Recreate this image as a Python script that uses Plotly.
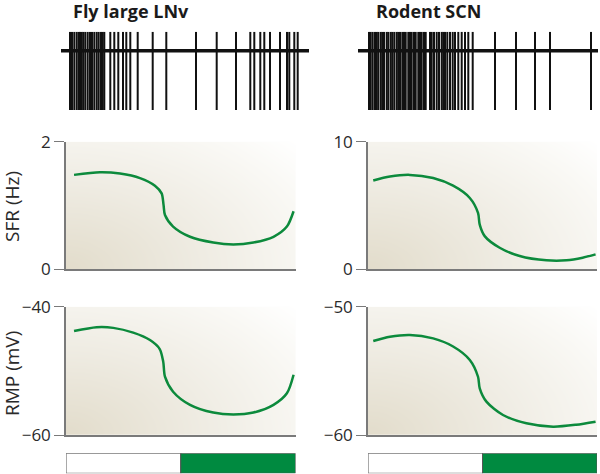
import numpy as np
import plotly.graph_objects as go

W, H = 600, 474

# ---------------- data ----------------
# spike times (ms) along each raster
fly_spikes = [9, 11, 13.3, 15.7, 17.7, 19, 20.7, 22.3, 24.3, 26.7, 29, 31, 33.3, 35.7, 37.7,
              40, 41.7, 43.3, 49.3, 53.3, 57.3, 62, 65.3, 69.3, 76.7, 91.7, 105.3, 135,
              155.7, 175, 189.3, 193.3, 199.3, 203.3, 209, 219, 226, 228.3, 233.3, 236.7]
fly_raster_len = 248
rod_spikes = [11, 12.7, 14.7, 17, 18.7, 20.3, 22.7, 24.3, 26, 28.7, 30.3, 32.7, 34.3, 36.3,
              38.7, 40.3, 42, 44.3, 46, 47.7, 50.3, 52, 53.7, 56, 57.7, 60.3, 62, 63.7, 66,
              67.7, 72, 73.7, 76, 78.7, 81, 83.7, 85.3, 87, 89.3, 92, 94.7, 97, 100.3, 103.7,
              107, 110.3, 114.7, 137, 158, 177, 192, 233]
rod_raster_len = 240

# time of day (h)
fly_t = [0.84, 3.56, 5.65, 7.74, 9.3, 10.0, 10.2, 10.35, 11.2, 12.97, 15.4, 17.5, 19.6, 21.7, 23.1, 23.8]
fly_sfr = [1.48, 1.52, 1.50, 1.43, 1.31, 1.19, 1.01, 0.85, 0.67, 0.51, 0.42, 0.39, 0.42, 0.51, 0.67, 0.91]
fly_rmp_t = [0.84, 3.2, 4.94, 7.03, 8.78, 9.8, 10.17, 10.35, 11.2, 12.97, 15.4, 17.5, 19.6, 21.7, 23.1, 23.8]
fly_rmp = [-43.8, -43.2, -43.3, -44.05, -45.2, -46.6, -48.6, -50.9, -53.25, -55.3, -56.5, -56.8,
           -56.5, -55.3, -53.5, -50.6]

rod_t = [0.55, 2.3, 4.39, 6.83, 8.92, 10.67, 11.53, 11.71, 12.23, 13.8, 15.9, 18.7, 20.8, 22.5, 23.85]
rod_sfr = [6.96, 7.27, 7.4, 7.15, 6.55, 5.59, 4.42, 3.5, 2.6, 1.69, 1.04, 0.70, 0.70, 0.91, 1.17]
rod_rmp_t = [0.55, 2.3, 4.39, 6.83, 8.92, 10.67, 11.53, 11.71, 12.41, 14.15, 16.6, 19.4, 21.8, 23.85]
rod_rmp = [-52.67, -52.34, -52.2, -52.47, -53.1, -54.15, -55.46, -56.36, -57.4, -58.44, -59.09,
           -59.35, -59.2, -58.96]

# light/dark phases (h)
phase_start = [0, 12]
phase_len = [12, 12]
phase_colors = ["#ffffff", "#008a40"]

titles = ["Fly large LNv", "Rodent SCN"]
sfr_ticks = [[0, 2], [0, 10]]
rmp_ticks = [[-60, -40], [-60, -50]]

# ---------------- layout helpers ----------------
def px_x(p):
    return p / W

def px_y(p):
    return 1 - p / H

GREEN = "#0c8a3c"
AXC = "#7a7a7a"
FONT = "Open Sans"

fig = go.Figure()
layout = dict(width=W, height=H, margin=dict(l=0, r=0, t=0, b=0, autoexpand=False),
              paper_bgcolor="white", plot_bgcolor="rgba(0,0,0,0)", showlegend=False)

cols = [dict(x0=66, x1=295.5, rx0=61, rx1=309, title_x=71),
        dict(x0=368, x1=597, rx0=358, rx1=598, title_x=374)]
rows_y = dict(raster=(31.7, 110), sfr=(141.7, 269.3), rmp=(306.7, 435), bar=(453.3, 473.3))

spikes_all = [fly_spikes, rod_spikes]
lens = [fly_raster_len, rod_raster_len]
curves_sfr = [(fly_t, fly_sfr), (rod_t, rod_sfr)]
curves_rmp = [(fly_rmp_t, fly_rmp), (rod_rmp_t, rod_rmp)]

ax_i = 0
def new_axes(xdom, ydom, xr, yr):
    global ax_i
    ax_i += 1
    s = "" if ax_i == 1 else str(ax_i)
    layout["xaxis" + s] = dict(domain=xdom, range=xr, anchor="y" + s, visible=False,
                               fixedrange=True, automargin=False)
    layout["yaxis" + s] = dict(domain=ydom, range=yr, anchor="x" + s, visible=False,
                               fixedrange=True, automargin=False)
    return "x" + s, "y" + s, "xaxis" + s, "yaxis" + s

# gradient grid (style only)
gu = np.linspace(0, 1, 40)
gv = np.linspace(0, 1, 30)
GU, GV = np.meshgrid(gu, gv)
grad = np.sqrt((GU * 1.0) ** 2 + (GV * 0.9) ** 2) / np.sqrt(1 + 0.81)
gscale = [[0, "#e2dccb"], [0.45, "#efece3"], [0.8, "#f9f8f4"], [1, "#ffffff"]]

for c in range(2):
    col = cols[c]
    # raster
    y0, y1 = rows_y["raster"]
    xa, ya, xk, yk = new_axes([px_x(col["rx0"]), px_x(col["rx1"])], [px_y(y1), px_y(y0)],
                              [0, lens[c]], [0, 1])
    xs, ys = [], []
    for t in spikes_all[c]:
        xs += [t, t, None]
        ys += [0, 1, None]
    fig.add_trace(go.Scatter(x=xs, y=ys, mode="lines", line=dict(color="#111", width=2),
                             xaxis=xa, yaxis=ya, hoverinfo="skip"))
    fig.add_trace(go.Scatter(x=[0, lens[c]], y=[0.757, 0.757], mode="lines",
                             line=dict(color="#111", width=3.5), xaxis=xa, yaxis=ya, hoverinfo="skip"))
    layout.setdefault("annotations", []).append(dict(
        text="<b>" + titles[c] + "</b>", x=px_x(col["title_x"]), y=px_y(11), xref="paper", yref="paper",
        xanchor="left", yanchor="middle", showarrow=False,
        font=dict(family=FONT, size=18, color="#1a1a1a")))

    # SFR and RMP panels
    for key, ticks, (tt, vv) in [("sfr", sfr_ticks[c], curves_sfr[c]), ("rmp", rmp_ticks[c], curves_rmp[c])]:
        y0, y1 = rows_y[key]
        xa, ya, xk, yk = new_axes([px_x(col["x0"]), px_x(col["x1"])], [px_y(y1), px_y(y0)],
                                  [0, 24], ticks)
        fig.add_trace(go.Heatmap(x=np.linspace(0, 24, 40), y=np.linspace(ticks[0], ticks[1], 30), z=grad,
                                 colorscale=gscale, showscale=False, zsmooth="best", hoverinfo="skip",
                                 xaxis=xa, yaxis=ya))
        fig.add_trace(go.Scatter(x=tt, y=vv, mode="lines", line=dict(color=GREEN, width=2.5, shape="spline",
                                 smoothing=0.8), xaxis=xa, yaxis=ya, hoverinfo="skip"))
        layout[yk].update(visible=True, showline=True, linecolor=AXC, linewidth=1.5, ticks="outside",
                          ticklen=10, tickcolor=AXC, tickwidth=1, tickvals=ticks,
                          ticktext=[("\u2212" + str(abs(v))) if v < 0 else str(v) for v in ticks],
                          tickfont=dict(family=FONT, size=17, color="#2a2a2a"), showgrid=False, zeroline=False)
        layout[xk].update(visible=True, showline=True, linecolor=AXC, linewidth=1.5, ticks="",
                          showticklabels=False, showgrid=False, zeroline=False)

    # light/dark bar
    y0, y1 = rows_y["bar"]
    xa, ya, xk, yk = new_axes([px_x(col["x0"]), px_x(col["x1"])], [px_y(y1), px_y(y0)],
                              [0, 24], [-0.5, 0.5])
    fig.add_trace(go.Bar(x=phase_len, base=phase_start, y=[0, 0], orientation="h", width=1,
                         marker=dict(color=phase_colors, line=dict(color="#555", width=1)),
                         xaxis=xa, yaxis=ya, hoverinfo="skip"))

layout["annotations"] += [
    dict(text="SFR (Hz)", x=px_x(12), y=px_y(207), xref="paper", yref="paper", textangle=-90,
         xanchor="center", yanchor="middle",
         showarrow=False, font=dict(family=FONT, size=19, color="#2a2a2a")),
    dict(text="RMP (mV)", x=px_x(12), y=px_y(374), xref="paper", yref="paper", textangle=-90,
         xanchor="center", yanchor="middle",
         showarrow=False, font=dict(family=FONT, size=19, color="#2a2a2a")),
]
layout["barmode"] = "overlay"
fig.update_layout(**layout)
fig.write_html("out.html", config={"displayModeBar": False},
               post_script="document.body.style.margin='0';")
